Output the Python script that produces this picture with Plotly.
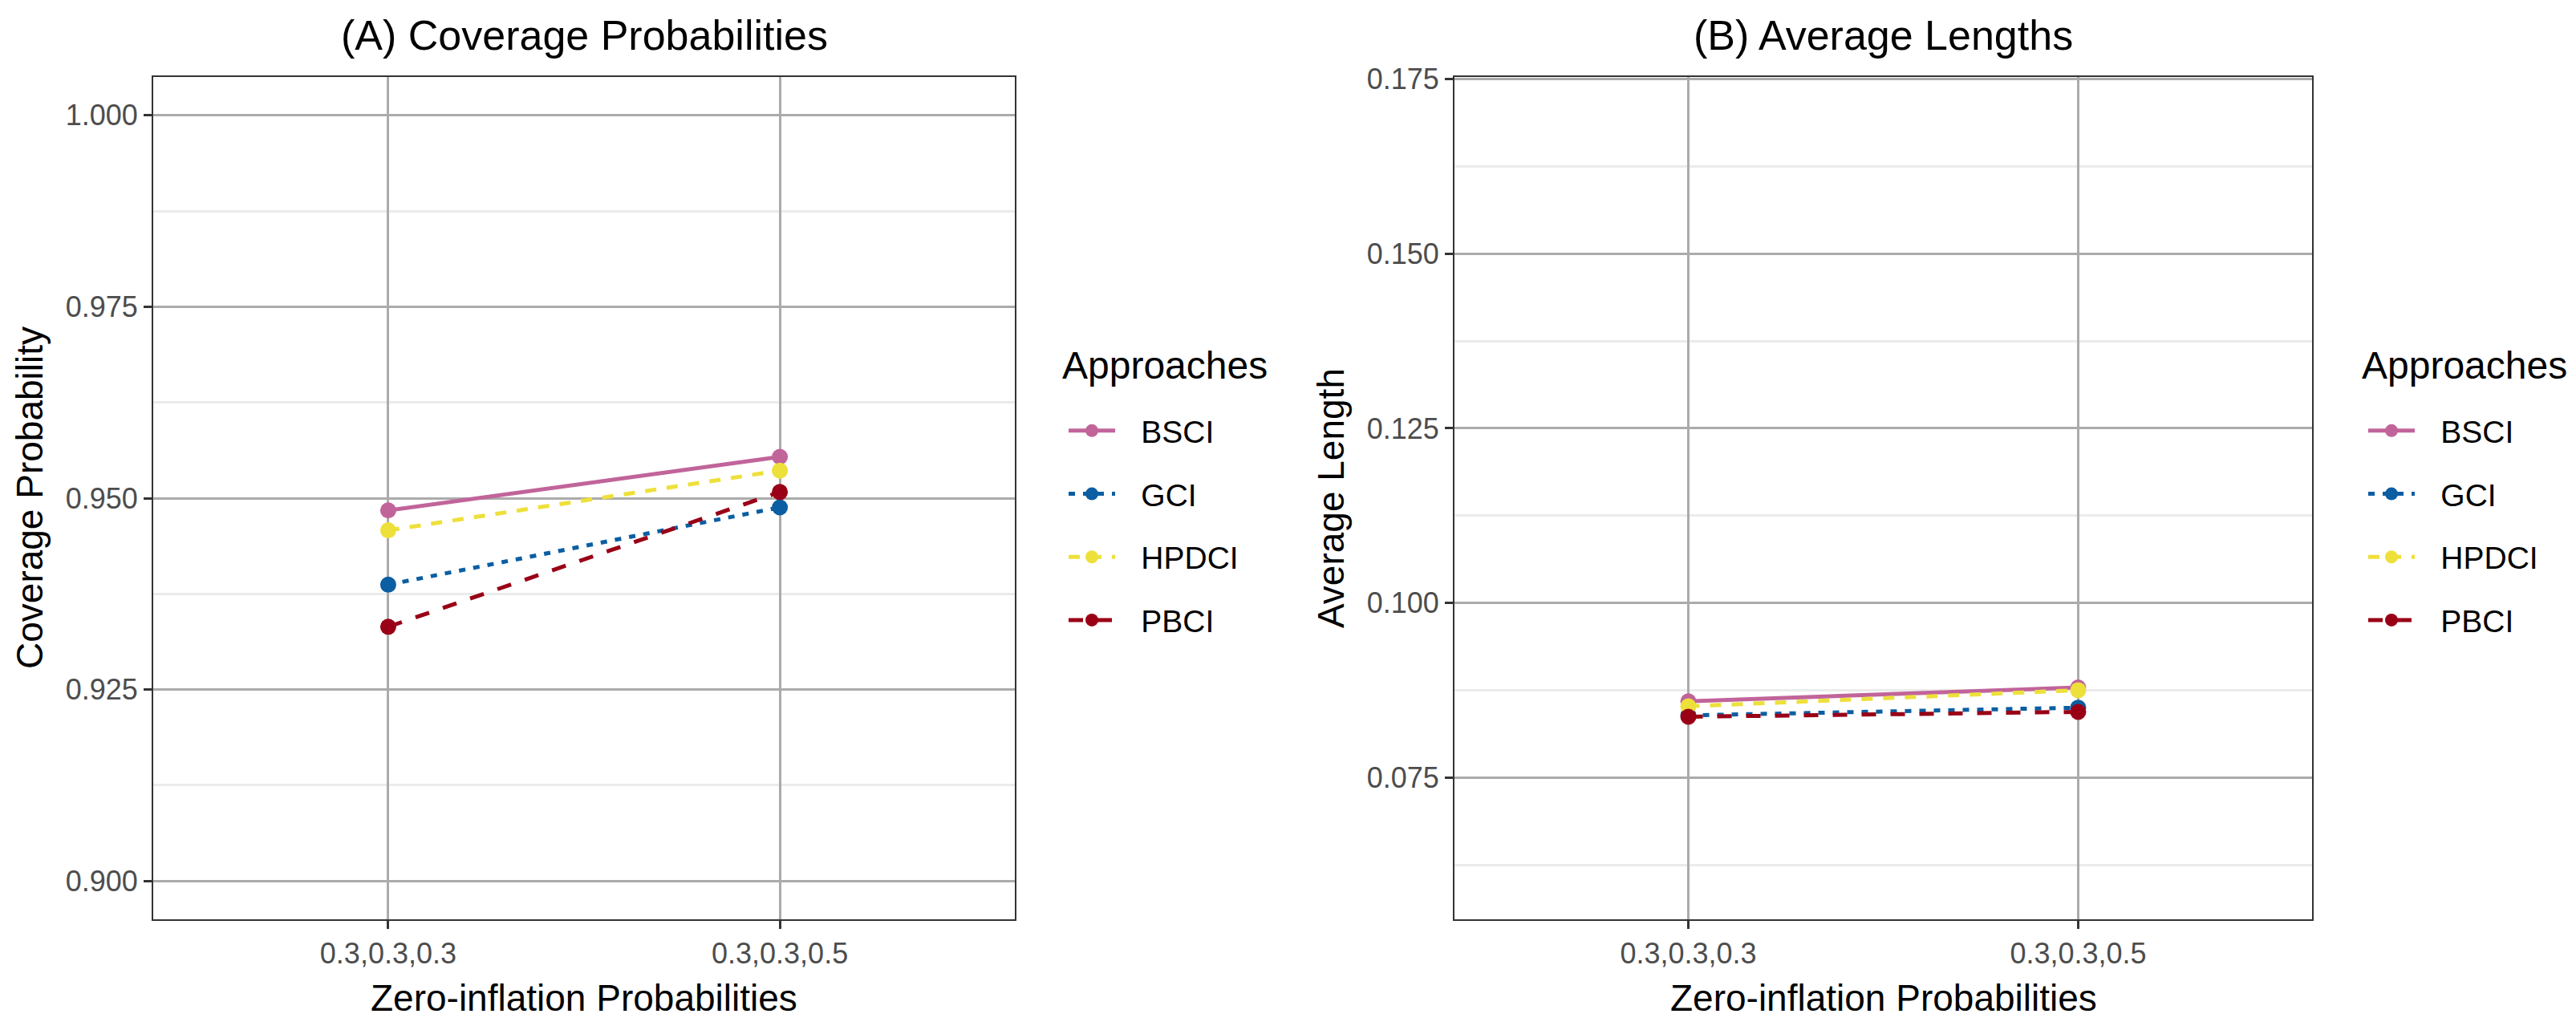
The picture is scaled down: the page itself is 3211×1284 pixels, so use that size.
import plotly.graph_objects as go

categories = ["0.3,0.3,0.3", "0.3,0.3,0.5"]
approaches = ["BSCI", "GCI", "HPDCI", "PBCI"]

cp_bsci = [0.9484, 0.9554]
cp_gci = [0.9387, 0.9488]
cp_hpdci = [0.9458, 0.9536]
cp_pbci = [0.9332, 0.9508]

al_bsci = [0.0859, 0.0879]
al_gci = [0.0839, 0.0850]
al_hpdci = [0.0852, 0.0875]
al_pbci = [0.0837, 0.0844]

colors = {"BSCI": "#C1649A", "GCI": "#0B5EA2", "HPDCI": "#EEE03A", "PBCI": "#990016"}
dashes = {"BSCI": "solid", "GCI": "8px,10px", "HPDCI": "14px,13px", "PBCI": "18px,18px"}

cp = {"BSCI": cp_bsci, "GCI": cp_gci, "HPDCI": cp_hpdci, "PBCI": cp_pbci}
al = {"BSCI": al_bsci, "GCI": al_gci, "HPDCI": al_hpdci, "PBCI": al_pbci}

W, H = 3211, 1284
FONT = "Liberation Sans, Arial, sans-serif"
PAD = "\u2002\u2009"

fig = go.Figure()
for a in approaches:
    fig.add_trace(go.Scatter(
        x=categories, y=cp[a], name=PAD + a, mode="lines+markers",
        line=dict(color=colors[a], width=5, dash=dashes[a]),
        marker=dict(color=colors[a], size=20),
        xaxis="x", yaxis="y", legend="legend", legendgroup="L" + a,
    ))
for a in approaches:
    fig.add_trace(go.Scatter(
        x=categories, y=al[a], name=PAD + a, mode="lines+markers",
        line=dict(color=colors[a], width=5, dash=dashes[a]),
        marker=dict(color=colors[a], size=20),
        xaxis="x2", yaxis="y2", legend="legend2", legendgroup="R" + a,
    ))

x1 = [191 / W, 1265 / W]
x2 = [1813 / W, 2882 / W]
yd = [1 - 1146 / H, 1 - 96 / H]

axis_common = dict(
    showline=True, mirror=True, linecolor="#333333", linewidth=2,
    ticks="outside", ticklen=10, tickwidth=3, tickcolor="#333333",
    tickfont=dict(family=FONT, size=36, color="#4d4d4d"),
    showgrid=True, gridcolor="#ababab", gridwidth=3, zeroline=False,
    automargin=False,
)

leg_common = dict(
    xanchor="left", yanchor="top",
    font=dict(family=FONT, size=39), itemwidth=58, tracegroupgap=25,
    bgcolor="rgba(0,0,0,0)",
)

fig.update_layout(
    template="none",
    width=W, height=H,
    margin=dict(l=0, r=0, t=0, b=0, autoexpand=False),
    paper_bgcolor="white", plot_bgcolor="white",
    font=dict(family=FONT, color="black"),
    xaxis=dict(domain=x1, anchor="y", type="category", range=[-0.6, 1.6], **axis_common),
    yaxis=dict(domain=yd, anchor="x", range=[0.895, 1.005], tick0=0.9, dtick=0.025,
               tickformat=".3f",
               minor=dict(dtick=0.0125, tick0=0.9, showgrid=True, gridcolor="#ebebeb", gridwidth=3, ticks=""),
               **axis_common),
    xaxis2=dict(domain=x2, anchor="y2", type="category", range=[-0.6, 1.6], **axis_common),
    yaxis2=dict(domain=yd, anchor="x2", range=[0.0547, 0.1753], tick0=0.075, dtick=0.025,
                tickformat=".3f",
                minor=dict(dtick=0.0125, tick0=0.075, showgrid=True, gridcolor="#ebebeb", gridwidth=3, ticks=""),
                **axis_common),
    legend=dict(x=1327 / W, y=1 - 505 / H, **leg_common),
    legend2=dict(x=2947 / W, y=1 - 505 / H, **leg_common),
    showlegend=True,
)

ann = []
def add_text(text, x, y, size, angle=0, xanchor="center"):
    ann.append(dict(text=text, x=x / W, y=1 - y / H, xref="paper", yref="paper",
                    xanchor=xanchor, yanchor="middle", showarrow=False, textangle=angle,
                    font=dict(family=FONT, size=size, color="black")))

add_text("(A) Coverage Probabilities", (191 + 1265) / 2, 44, 52)
add_text("(B) Average Lengths", (1813 + 2882) / 2, 44, 52)
add_text("Zero-inflation Probabilities", (191 + 1265) / 2, 1244, 46)
add_text("Zero-inflation Probabilities", (1813 + 2882) / 2, 1244, 46)
add_text("Coverage Probability", 37, (96 + 1146) / 2, 46, -90)
add_text("Average Length", 1659, (96 + 1146) / 2, 46, -90)
add_text("Approaches", 1322, 455, 48, xanchor="left")
add_text("Approaches", 2942, 455, 48, xanchor="left")
fig.update_layout(annotations=ann)

fig.write_html("out.html", config={"displayModeBar": False},
               post_script="document.body.style.margin='0';document.body.style.overflow='hidden';")
